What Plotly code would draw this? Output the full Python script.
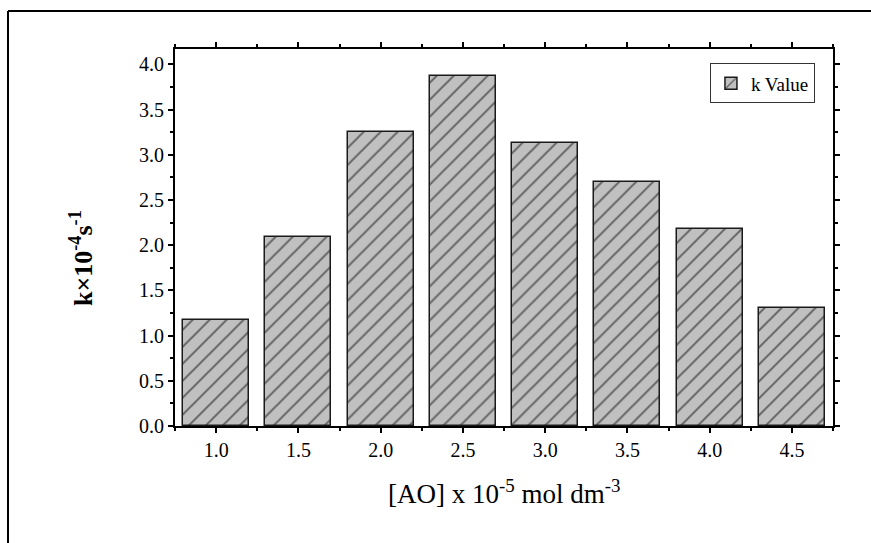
import plotly.graph_objects as go

concentrations = [1.0, 1.5, 2.0, 2.5, 3.0, 3.5, 4.0, 4.5]
k_values = [1.17, 2.09, 3.25, 3.87, 3.13, 2.70, 2.18, 1.31]
x_ticks = [1.0, 1.5, 2.0, 2.5, 3.0, 3.5, 4.0, 4.5]
x_tick_labels = ["1.0", "1.5", "2.0", "2.5", "3.0", "3.5", "4.0", "4.5"]
y_ticks = [0.0, 0.5, 1.0, 1.5, 2.0, 2.5, 3.0, 3.5, 4.0]
y_tick_labels = ["0.0", "0.5", "1.0", "1.5", "2.0", "2.5", "3.0", "3.5", "4.0"]

FONT = "Liberation Serif, Times New Roman, serif"

fig = go.Figure()
fig.add_trace(go.Bar(
    x=concentrations, y=k_values, width=0.4, name="k Value",
    marker=dict(color="#c0c0c0", line=dict(color="#1a1a1a", width=1.5),
                pattern=dict(shape="/", fgcolor="#000000", bgcolor="#c0c0c0",
                             size=12, solidity=0.16)),
    showlegend=True,
))

axis_common = dict(showline=True, linecolor="black", linewidth=1.8, mirror="ticks",
                   ticks="outside", ticklen=5, tickwidth=1.8, tickcolor="black",
                   showgrid=False, zeroline=False,
                   tickfont=dict(family=FONT, size=20, color="black"))

fig.update_layout(
    width=871, height=543,
    margin=dict(l=175, r=38, t=49, b=117),
    paper_bgcolor="white", plot_bgcolor="white",
    bargap=0,
    xaxis=dict(range=[0.75, 4.75], tickvals=x_ticks, ticktext=x_tick_labels,
               minor=dict(dtick=0.25, tick0=0.75, ticks="outside", ticklen=3,
                          tickwidth=1.8, tickcolor="black"),
               **axis_common),
    yaxis=dict(range=[0, 4.17], tickvals=y_ticks, ticktext=y_tick_labels,
               minor=dict(dtick=0.25, tick0=0, ticks="outside", ticklen=3,
                          tickwidth=1.8, tickcolor="black"),
               **axis_common),
    legend=dict(x=0.813, y=0.962, xanchor="left", yanchor="top",
                bordercolor="#333333", borderwidth=1, bgcolor="white",
                font=dict(family=FONT, size=19, color="black"),
                itemwidth=30, tracegroupgap=0),
)

# axis titles placed as annotations
fig.add_annotation(text="[AO] x 10<sup>-5</sup> mol dm<sup>-3</sup>",
                   xref="paper", yref="paper", x=0.5, y=-0.175,
                   xanchor="center", yanchor="middle", showarrow=False,
                   font=dict(family=FONT, size=27, color="black"))
fig.add_annotation(text="<b>k\u00d710<sup>-4</sup>s<sup>-1</sup></b>",
                   xref="paper", yref="paper", x=-0.1429, y=0.4456,
                   xanchor="center", yanchor="middle", showarrow=False,
                   textangle=-90,
                   font=dict(family=FONT, size=26, color="black"))

# outer page frame (left and top lines)
fig.add_shape(type="line", xref="paper", yref="paper",
              x0=-0.2538, x1=-0.2538, y0=1.1008, y1=-0.35,
              line=dict(color="black", width=2))
fig.add_shape(type="line", xref="paper", yref="paper",
              x0=-0.2538, x1=1.1, y0=1.1008, y1=1.1008,
              line=dict(color="black", width=2))

fig.write_html("out.html", config={"displayModeBar": False},
               post_script="document.body.style.margin='0';")
